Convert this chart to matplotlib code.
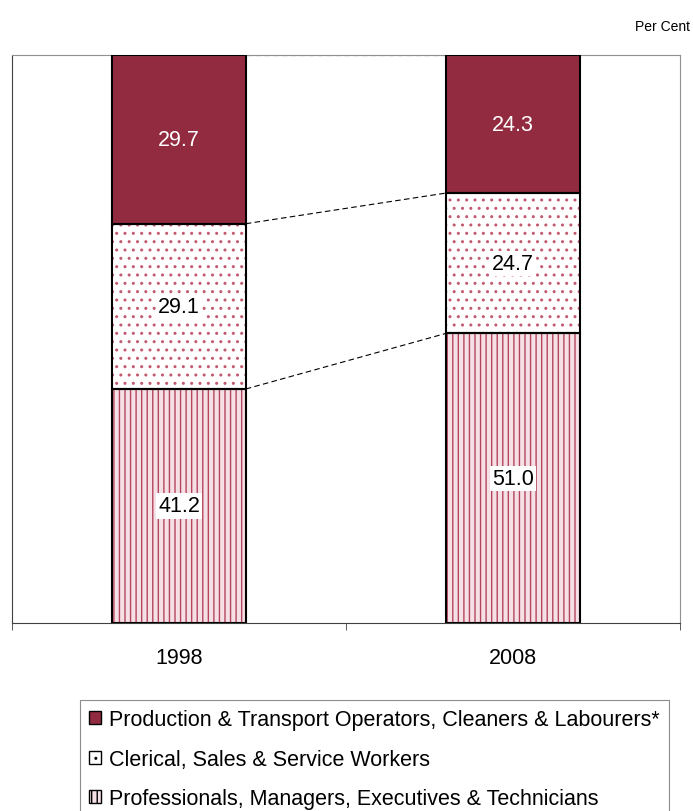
import matplotlib
matplotlib.use("Agg")
import matplotlib.pyplot as plt
import numpy as np
from matplotlib.patches import Patch

plt.rcParams['font.family'] = ['Liberation Sans', 'DejaVu Sans']
plt.rcParams['hatch.linewidth'] = 1.0

years = ["1998", "2008"]
series_names = [
    "Professionals, Managers, Executives & Technicians",
    "Clerical, Sales & Service Workers",
    "Production & Transport Operators, Cleaners & Labourers*",
]
prof = [41.2, 51.0]
clerical = [29.1, 24.7]
production = [29.7, 24.3]

values = [prof, clerical, production]
dark = '#922B40'
styles = [
    dict(facecolor='#F4E0E5', hatch='|||', hatch_col='#B5455F'),
    dict(facecolor='white', hatch='..', hatch_col='#C25A72'),
    dict(facecolor=dark, hatch=None, hatch_col=dark),
]

FS = 15.5
fig = plt.figure(figsize=(6.93, 8.12), dpi=100)
ax = fig.add_axes([12/693, 1-624/812, 668/693, 568/812])

x = np.arange(len(years))
width = 0.4
bottom = np.zeros(len(years))
tops = []
for vals, st, name in zip(values, styles, series_names):
    vals = np.array(vals)
    ax.bar(x, vals, width, bottom=bottom, facecolor=st['facecolor'],
           edgecolor=st['hatch_col'], hatch=st['hatch'], linewidth=0, zorder=2, label=name)
    ax.bar(x, vals, width, bottom=bottom, facecolor='none', edgecolor='black', linewidth=1.5, zorder=3)
    for xi, b, v in zip(x, bottom, vals):
        ax.text(xi, b + v/2, f"{v:.1f}", ha='center', va='center', fontsize=FS,
                color='white' if st['hatch'] is None else 'black',
                bbox=None if st['hatch'] is None else dict(facecolor='white', edgecolor='none', pad=1.5),
                zorder=4)
    bottom = bottom + vals
    tops.append(bottom.copy())

for t in tops:
    ax.plot([x[0] + width/2, x[1] - width/2], [t[0], t[1]], color='black',
            linestyle=(0, (5, 3)), linewidth=0.8, zorder=1)

ax.set_xlim(-0.5, 1.5)
ax.set_ylim(0, 100)
ax.set_xticks(x)
ax.set_xticklabels(years, fontsize=FS)
ax.tick_params(axis='x', which='major', length=0, pad=17)
ax.set_xticks([-0.5, 0.5, 1.5], minor=True)
ax.tick_params(axis='x', which='minor', length=5, color='#404040')
ax.set_yticks([])
for s in ['top', 'right']:
    ax.spines[s].set_color('#909090')
for s in ['left', 'bottom']:
    ax.spines[s].set_color('#404040')

fig.text(690/693, 1-27/812, "Per Cent", ha='right', va='center', fontsize=10)

leg_handles = []
for st, name in zip(styles[::-1], series_names[::-1]):
    leg_handles.append(Patch(facecolor=st['facecolor'], edgecolor='black', hatch=st['hatch'], linewidth=1.0,
                             label=name))
leg = fig.legend(handles=leg_handles, loc='upper left', bbox_to_anchor=(80/693, 1-701/812),
                 fontsize=FS, frameon=True, fancybox=False, edgecolor='#707070',
                 handlelength=0.55, handleheight=0.55, handletextpad=0.37, labelspacing=0.87,
                 borderpad=0.42, borderaxespad=0)
leg.get_frame().set_linewidth(0.8)

fig.savefig("out.png", dpi=100)
